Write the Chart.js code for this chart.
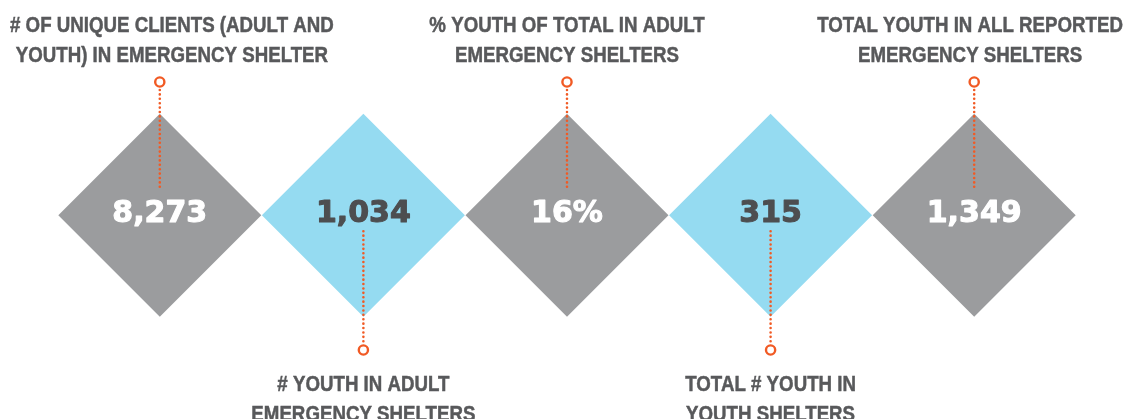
<!DOCTYPE html>
<html>
<head>
<meta charset="utf-8">
<script src="https://cdn.jsdelivr.net/npm/chart.js@4/dist/chart.umd.min.js"></script>
<style>
  html, body { margin: 0; padding: 0; background: #fff; }
  #wrap { width: 1127px; height: 419px; position: relative; }
</style>
</head>
<body>
<div id="wrap"><canvas id="shelterChart"></canvas></div>
<script>
// Data infografis
const categories = [
    ['# OF UNIQUE CLIENTS (ADULT AND', 'YOUTH) IN EMERGENCY SHELTER'],
    ['# YOUTH IN ADULT', 'EMERGENCY SHELTERS'],
    ['% YOUTH OF TOTAL IN ADULT', 'EMERGENCY SHELTERS'],
    ['TOTAL # YOUTH IN', 'YOUTH SHELTERS'],
    ['TOTAL YOUTH IN ALL REPORTED', 'EMERGENCY SHELTERS']
];
const values = [8273, 1034, 16, 315, 1349];
const valueLabels = ['8,273', '1,034', '16%', '315', '1,349'];
const labelSide = ['top', 'bottom', 'top', 'bottom', 'top'];

// Warna
const GRAY = '#9b9c9e';
const BLUE = '#95dbf1';
const ORANGE = '#f15a24';
const LABEL_COLOR = '#58595b';
const DARK_VALUE = '#4d4e50';

const fills = labelSide.map(s => s === 'top' ? GRAY : BLUE);
const valueColors = labelSide.map(s => s === 'top' ? '#ffffff' : DARK_VALUE);

// Plugin untuk angka, garis titik-titik dan label
const annotatePlugin = {
    id: 'annotate',
    afterDatasetsDraw(chart) {
        const ctx = chart.ctx;
        const xs = chart.scales.x;
        const ys = chart.scales.y;
        const cy = ys.getPixelForValue(0);

        categories.forEach((lines, i) => {
            const cx = xs.getPixelForValue(i);

            // angka (sedikit ditebalkan)
            ctx.save();
            ctx.font = 'bold 30px "DejaVu Sans"';
            ctx.fillStyle = valueColors[i];
            ctx.strokeStyle = valueColors[i];
            ctx.lineWidth = 1.1;
            ctx.lineJoin = 'round';
            ctx.textAlign = 'center';
            ctx.textBaseline = 'alphabetic';
            ctx.fillText(valueLabels[i], cx, cy + 7);
            ctx.strokeText(valueLabels[i], cx, cy + 7);
            ctx.restore();

            // garis titik-titik + lingkaran
            const top = labelSide[i] === 'top';
            const circleY = top ? 82 : 350;
            ctx.save();
            ctx.strokeStyle = ORANGE;
            ctx.lineWidth = 2.6;
            ctx.lineCap = 'round';
            ctx.setLineDash([0, 4.4]);
            ctx.beginPath();
            if (top) {
                ctx.moveTo(cx, circleY + 8);
                ctx.lineTo(cx, cy - 26);
            } else {
                ctx.moveTo(cx, cy + 16);
                ctx.lineTo(cx, circleY - 8);
            }
            ctx.stroke();
            ctx.setLineDash([]);
            ctx.lineWidth = 2.4;
            ctx.beginPath();
            ctx.arc(cx, circleY, 4.6, 0, Math.PI * 2);
            ctx.fillStyle = '#fff';
            ctx.fill();
            ctx.stroke();
            ctx.restore();

            // label (dipadatkan horizontal)
            ctx.save();
            ctx.font = 'bold 22px "Liberation Sans Narrow", "Arial Narrow", sans-serif';
            ctx.fillStyle = LABEL_COLOR;
            ctx.strokeStyle = LABEL_COLOR;
            ctx.lineWidth = 0.5;
            ctx.textAlign = 'center';
            const squeeze = 0.85;
            const widest = Math.max(...lines.map(l => ctx.measureText(l).width)) * squeeze;
            let lx = Math.max(cx, widest / 2 + 10);
            lx = Math.min(lx, chart.width - widest / 2 - 4);
            const baseY = top ? 32 : 391;
            ctx.translate(lx, 0);
            ctx.scale(squeeze, 1);
            lines.forEach((l, k) => {
                ctx.fillText(l, 0, baseY + k * 30);
                ctx.strokeText(l, 0, baseY + k * 30);
            });
            ctx.restore();
        });
    }
};

const config = {
    type: 'scatter',
    data: {
        datasets: [{
            data: values.map((v, i) => ({ x: i, y: 0, v: v })),
            pointStyle: 'rectRot',
            pointRadius: 101.5,
            pointHoverRadius: 101.5,
            pointBackgroundColor: fills,
            pointBorderColor: fills,
            pointBorderWidth: 0,
            clip: false
        }]
    },
    options: {
        responsive: true,
        maintainAspectRatio: false,
        animation: false,
        events: [],
        layout: { padding: { left: 0, right: 0, top: 113, bottom: 0 } },
        plugins: {
            legend: { display: false },
            tooltip: { enabled: false }
        },
        scales: {
            x: { type: 'linear', min: -0.2863, max: 4.252, display: false },
            y: { type: 'linear', min: -1, max: 1, display: false }
        }
    },
    plugins: [annotatePlugin]
};

let myChart;
window.addEventListener('load', () => {
    const ctx = document.getElementById('shelterChart').getContext('2d');
    myChart = new Chart(ctx, config);
});
</script>
</body>
</html>
